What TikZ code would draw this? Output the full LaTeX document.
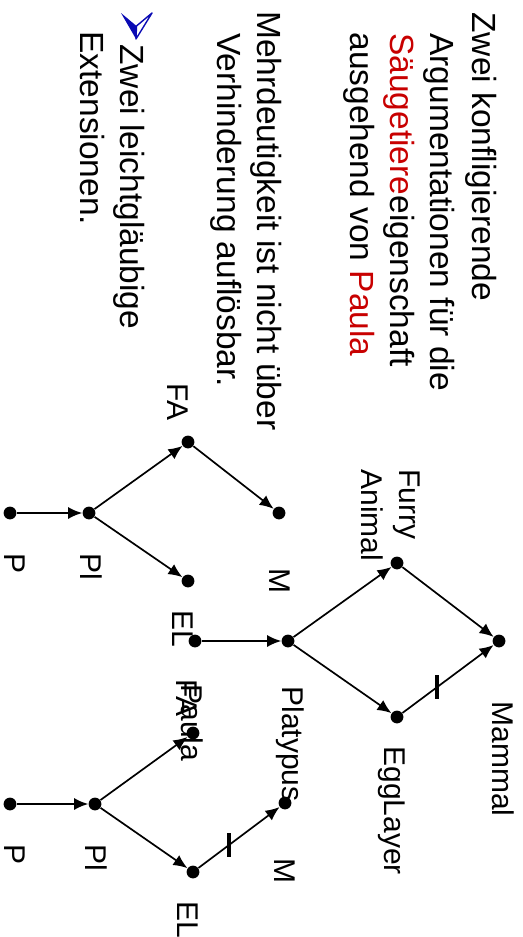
\documentclass[tikz,border=0pt]{standalone}
\usepackage{fontspec}
\setmainfont{Liberation Sans}
\usepackage{xcolor}
\usetikzlibrary{arrows.meta}

\definecolor{alertred}{RGB}{200,0,0}
\definecolor{itemblue}{RGB}{10,10,180}

\begin{document}
\begin{tikzpicture}[x=0.5pt, y=0.5pt, rotate=-90, transform shape,
    dot/.style={circle,fill,inner sep=0pt,minimum size=6.4pt},
    txt/.style={anchor=base west,inner sep=0pt,font=\fontsize{16.75}{20.25}\selectfont},
    lbl/.style={anchor=base west,inner sep=0pt,align=left,font=\fontsize{15}{19}\selectfont},
    edge/.style={line width=0.85pt,->},
    cut/.style={rectangle,fill,inner sep=0pt,minimum width=12pt,minimum height=2.2pt}]
        \tikzset{>={Latex[length=7pt,width=6pt]}}
        
        % slide frame (rotated page)
        \useasboundingbox (0,0) rectangle (937,523);
        
        % Text
        \node[txt] (zeile1) at (12,472) {Zwei konfligierende};
        \node[txt] (zeile2) at (33,430) {Argumentationen für die};
        \node[txt] (zeile3) at (33,390) {\textcolor{alertred}{Säugetiere}eigenschaft};
        \node[txt] (zeile4) at (32,350) {ausgehend von \textcolor{alertred}{Paula}};
        \node[txt] (zeile5) at (11,257) {Mehrdeutigkeit ist nicht über};
        \node[txt] (zeile6) at (33,217) {Verhinderung auflösbar.};
        \node[txt] (zeile7) at (44,120) {Zwei leichtgläubige};
        \node[txt] (zeile8) at (31,80) {Extensionen.};
        
        % Item arrow
        \fill[itemblue] (13,121) -- (39,136) -- (26,136.5) -- cycle;
        \draw[itemblue, line width=0.7pt, line join=round] (13,152) -- (39,136) -- (26,136.5) -- cycle;
        
        % Graph Paula
        \node[dot] (paula) at (641,195) {};
        \node[dot] (platypus) at (641,288) {};
        \node[dot] (furry) at (563,397) {};
        \node[dot] (egg) at (717,397) {};
        \node[dot] (mammal) at (641,499) {};
        \node[lbl] (paulaL) at (684,181) {Paula};
        \node[lbl] (platypusL) at (686,282) {Platypus};
        \node[lbl] (furryL) at (469,361) {Furry\\Animal};
        \node[lbl] (mammalL) at (701,492) {Mammal};
        \node[lbl] (eggL) at (746,384) {EggLayer};
        \draw[edge] (paula) -- (platypus);
        \draw[edge] (platypus) -- (furry);
        \draw[edge] (platypus) -- (egg);
        \draw[edge] (furry) -- (mammal);
        \draw[edge] (egg) -- node[cut,pos=0.38] {} (mammal);
        
        % Extension 1
        \node[dot] (lp) at (513,10) {};
        \node[dot] (lpl) at (513,89) {};
        \node[dot] (lfa) at (442,188) {};
        \node[dot] (lel) at (581,188) {};
        \node[dot] (lm) at (513,279) {};
        \node[lbl] (lpL) at (553,4) {P};
        \node[lbl] (lplL) at (553,80) {Pl};
        \node[lbl] (lfaL) at (383,167) {FA};
        \node[lbl] (lmL) at (568,269) {M};
        \node[lbl] (lelL) at (610,172) {EL};
        \draw[edge] (lp) -- (lpl);
        \draw[edge] (lpl) -- (lfa);
        \draw[edge] (lpl) -- (lel);
        \draw[edge] (lfa) -- (lm);
        
        % Extension 2
        \node[dot] (rp) at (804,10) {};
        \node[dot] (rpl) at (804,95) {};
        \node[dot] (rfa) at (733,193) {};
        \node[dot] (rel) at (872,193) {};
        \node[dot] (rm) at (803,285) {};
        \node[lbl] (rpL) at (844,4) {P};
        \node[lbl] (rplL) at (844,85) {Pl};
        \node[lbl] (rfaL) at (679,176) {FA};
        \node[lbl] (rmL) at (858,274) {M};
        \node[lbl] (relL) at (901,177) {EL};
        \draw[edge] (rp) -- (rpl);
        \draw[edge] (rpl) -- (rfa);
        \draw[edge] (rpl) -- (rel);
        \draw[edge] (rel) -- node[cut,pos=0.38] {} (rm);
\end{tikzpicture}
\end{document}
